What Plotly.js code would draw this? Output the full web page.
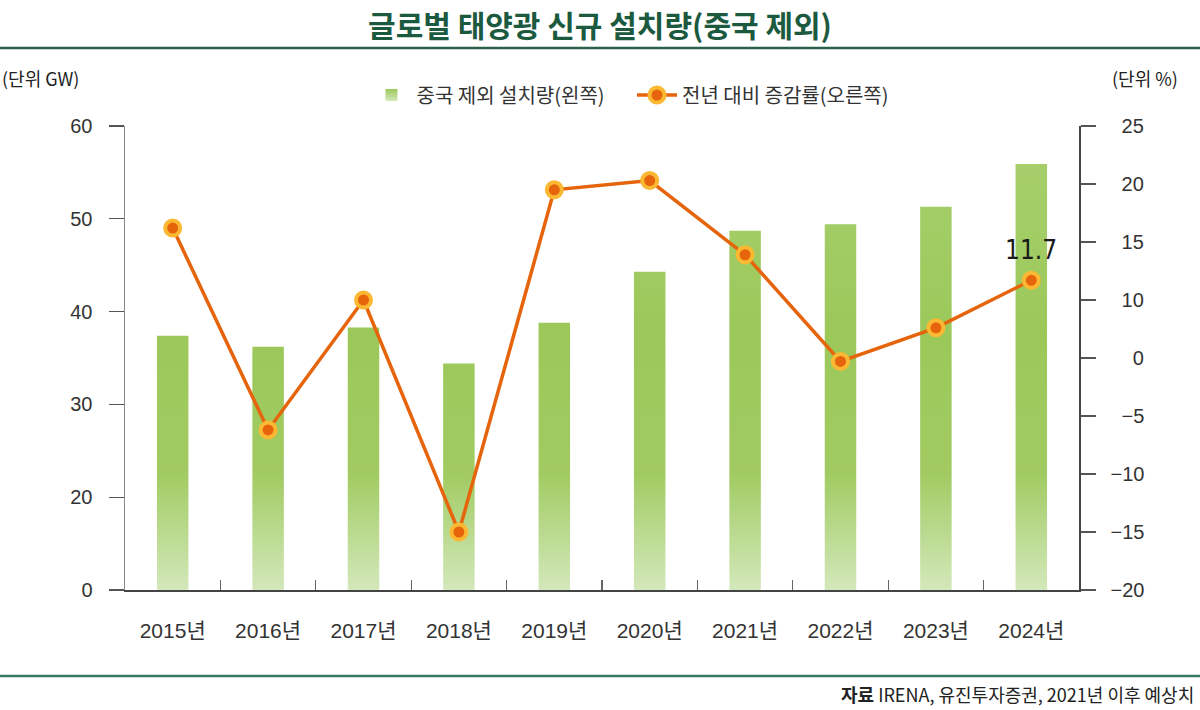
<!DOCTYPE html>
<html>
<head>
<meta charset="utf-8">
<script src="https://cdn.plot.ly/plotly-3.0.1.min.js"></script>
<style>
html,body{margin:0;padding:0;background:#fff;}
#chart{width:1200px;height:710px;}
</style>
</head>
<body>
<div id="chart"></div>
<script>
// ---- data ----
const years = ['2015년','2016년','2017년','2018년','2019년','2020년','2021년','2022년','2023년','2024년'];
const installs = [37.4, 36.2, 38.3, 34.4, 38.8, 44.3, 48.7, 49.4, 51.3, 55.9];   // GW (left axis)
const growth = [16.2, -6.2, 10.0, -15.0, 19.5, 20.3, 13.9, -0.3, 5.2, 11.7];     // % (right axis)
const seriesNames = ['중국 제외 설치량(왼쪽)', '전년 대비 증감률(오른쪽)'];
const leftTickLabels = ['0','20','30','40','50','60'];
const rightTickLabels = ['−20','−15','−10','−5','0','10','15','20','25'];

// The reference uses compressed axes: on the left, 0→20 takes one tick step;
// on the right, 0→10 takes one tick step. Map values onto that axis layout.
function rightAxisPos(v){ return v >= 10 ? v - 5 : (v >= 0 ? v / 2 : v); }
const growthPos = growth.map(rightAxisPos);
const rightTickVals = [-20,-15,-10,-5,0,5,10,15,20];
const leftTickVals = [10,20,30,40,50,60];

// right-align right tick labels with figure spaces
const maxLen = Math.max(...rightTickLabels.map(s => s.length));
const rightTickText = rightTickLabels.map(s => '\u2007'.repeat(maxLen - s.length) + s);

const W = 1200, H = 710, ML = 125, MR = 121, MT = 126, MB = 120;
const PW = W - ML - MR, PH = H - MT - MB;
const px = x => (x - ML) / PW;          // page px -> paper x
const py = y => (H - MB - y) / PH;      // page px -> paper y

const FONT = 'Liberation Sans, Arial, Noto Sans CJK KR, sans-serif';
const KFONT = 'Noto Sans CJK KR, Liberation Sans, sans-serif';

const traces = [
  {
    type: 'bar', x: years, y: installs, name: seriesNames[0] + '\u00a0\u00a0\u00a0\u00a0\u00a0',
    marker: {color: '#9dc95b', line: {width: 0}},
    yaxis: 'y', hoverinfo: 'x+y'
  },
  {
    type: 'scatter', mode: 'lines+markers', x: years, y: growthPos, yaxis: 'y2',
    name: seriesNames[1], customdata: growth,
    hovertemplate: '%{customdata}%<extra></extra>',
    line: {color: '#e5640c', width: 3.5},
    marker: {color: '#e5640c', size: 15, line: {color: '#fbb833', width: 4}}
  }
];

const last = years.length - 1;
const layout = {
  width: W, height: H,
  margin: {l: ML, r: MR, t: MT, b: MB},
  paper_bgcolor: '#fff', plot_bgcolor: 'rgba(0,0,0,0)',
  font: {family: FONT, color: '#333', size: 19},
  title: {
    text: '글로벌 태양광 신규 설치량(중국 제외)',
    font: {family: KFONT, size: 30, color: '#1c5a3f', weight: 700},
    x: 0.5, xanchor: 'center', y: 1 - 26 / H, yanchor: 'middle', yref: 'container'
  },
  bargap: 0.67,
  showlegend: true,
  legend: {
    orientation: 'h', x: px(630), xanchor: 'center', y: py(95), yanchor: 'middle',
    font: {family: KFONT, size: 20, color: '#333'}, bgcolor: 'rgba(0,0,0,0)',
    itemwidth: 40, traceorder: 'normal'
  },
  xaxis: {
    type: 'category', range: [-0.5, years.length - 0.5],
    showline: true, linecolor: '#444', linewidth: 1.5,
    ticks: 'inside', tickson: 'boundaries', ticklen: 10, tickcolor: '#666', tickwidth: 1.2,
    showgrid: false, zeroline: false, fixedrange: true,
    tickfont: {family: FONT, size: 21, color: '#333'}, ticklabelstandoff: 21
  },
  yaxis: {
    range: [10, 60], tickvals: leftTickVals, ticktext: leftTickLabels,
    showline: true, linecolor: '#8a8a8a', linewidth: 1.5,
    ticks: 'outside', ticklen: 15, tickcolor: '#555', tickwidth: 1.2,
    showgrid: false, zeroline: false, fixedrange: true,
    tickfont: {family: FONT, size: 20, color: '#333'}, ticklabelstandoff: 12
  },
  yaxis2: {
    overlaying: 'y', side: 'right',
    range: [-20, 20], tickvals: rightTickVals, ticktext: rightTickText,
    showline: true, linecolor: '#444', linewidth: 1.5,
    ticks: 'outside', ticklen: 15, tickcolor: '#555', tickwidth: 1.2,
    showgrid: false, zeroline: false, fixedrange: true,
    tickfont: {family: FONT, size: 20, color: '#333'}, ticklabelstandoff: 11
  },
  annotations: [
    {xref: 'x', yref: 'y2', x: years[last], y: growthPos[last], yshift: 30, showarrow: false,
     text: growth[last].toFixed(1), font: {family: 'DejaVu Sans Condensed, Liberation Sans Narrow, Roboto, sans-serif', size: 26, color: '#1a1a1a'},
     xanchor: 'center', yanchor: 'middle'},
    {xref: 'paper', yref: 'paper', x: px(0), y: py(78), xanchor: 'left', yanchor: 'middle', showarrow: false,
     text: '(단위 GW)', font: {family: KFONT, size: 18, color: '#222'}},
    {xref: 'paper', yref: 'paper', x: px(1180), y: py(78), xanchor: 'right', yanchor: 'middle', showarrow: false,
     text: '(단위 %)', font: {family: KFONT, size: 18, color: '#222'}},
    {xref: 'paper', yref: 'paper', x: px(1196), y: py(694), xanchor: 'right', yanchor: 'middle', showarrow: false,
     text: '<b>자료</b> IRENA, 유진투자증권, 2021년 이후 예상치', font: {family: KFONT, size: 18, color: '#222'}}
  ],
  shapes: [
    {type: 'line', xref: 'paper', yref: 'paper', x0: px(0), x1: px(W), y0: py(48), y1: py(48),
     line: {color: '#2b604a', width: 2.5}},
    {type: 'line', xref: 'paper', yref: 'paper', x0: px(0), x1: px(W), y0: py(676), y1: py(676),
     line: {color: '#3a7966', width: 2.5}}
  ]
};

Plotly.newPlot('chart', traces, layout, {displayModeBar: false, staticPlot: true}).then(gd => {
  const svg = gd.querySelector('svg.main-svg');
  const NS = 'http://www.w3.org/2000/svg';
  let defs = svg.querySelector('defs');
  if (!defs) { defs = document.createElementNS(NS, 'defs'); svg.insertBefore(defs, svg.firstChild); }
  function makeGrad(id, units, y2, stops) {
    const g = document.createElementNS(NS, 'linearGradient');
    g.setAttribute('id', id);
    g.setAttribute('gradientUnits', units);
    g.setAttribute('x1', '0'); g.setAttribute('x2', '0');
    g.setAttribute('y1', '0'); g.setAttribute('y2', String(y2));
    stops.forEach(([o, c]) => {
      const s = document.createElementNS(NS, 'stop');
      s.setAttribute('offset', o); s.setAttribute('stop-color', c);
      g.appendChild(s);
    });
    defs.appendChild(g);
  }
  const stops = [['0', '#a8d06f'], ['0.45', '#9cc85a'], ['0.75', '#a1cb62'], ['1', '#d3e8bb']];
  makeGrad('barGrad', 'userSpaceOnUse', PH, stops);
  makeGrad('legGrad', 'objectBoundingBox', 1, [['0', '#9cc85a'], ['1', '#d3e8bb']]);
  gd.querySelectorAll('.barlayer .point path').forEach(p => { p.style.fill = 'url(#barGrad)'; });
  gd.querySelectorAll('.legend .traces').forEach((t, i) => {
    if (i === 0) t.querySelectorAll('path').forEach(p => { p.style.fill = 'url(#legGrad)'; });
  });
});
</script>
</body>
</html>
